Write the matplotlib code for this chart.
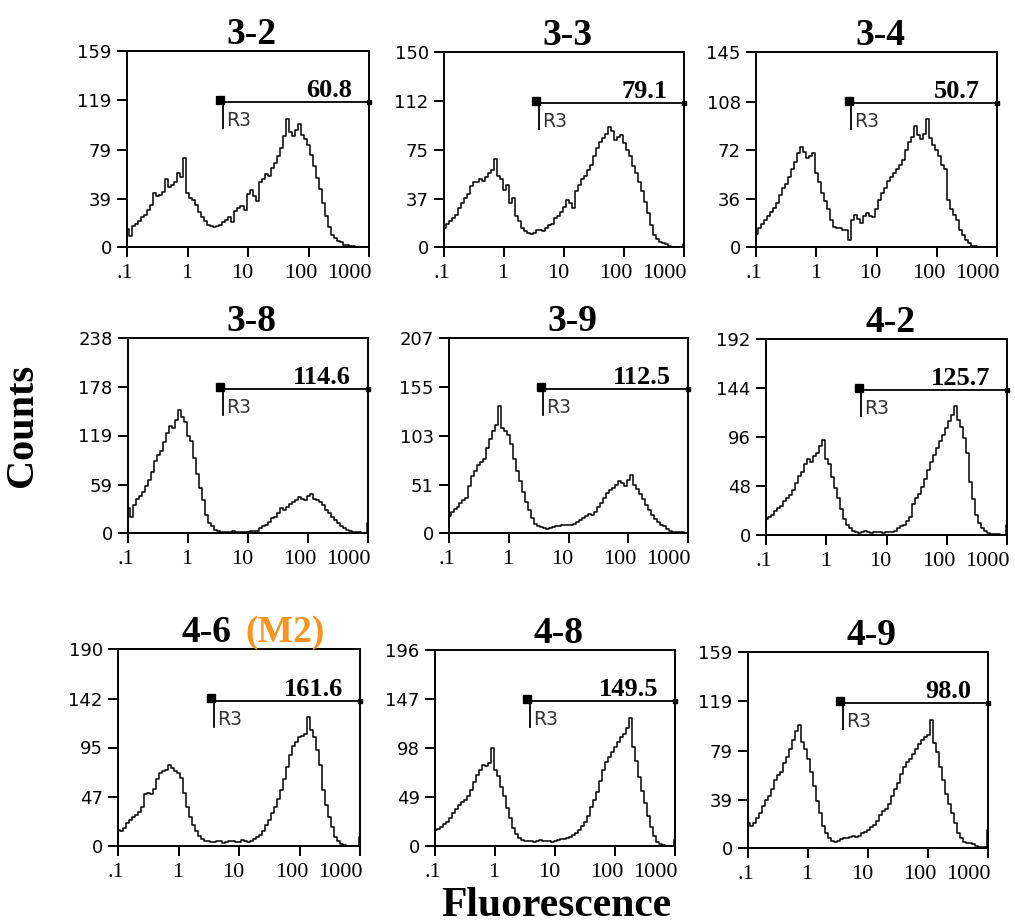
import matplotlib.pyplot as plt
import numpy as np
from matplotlib.ticker import NullLocator
from matplotlib.transforms import offset_copy

# histogram channels, 0.05 decade apart from .1 to 1000
log_fl = np.round(np.arange(-1.0, 3.001, 0.05), 2)
fl = 10 ** log_fl

titles = ['3-2', '3-3', '3-4', '3-8', '3-9', '4-2', '4-6', '4-8', '4-9']
gate_means = ['60.8', '79.1', '50.7', '114.6', '112.5', '125.7', '161.6', '149.5', '98.0']

y_ticks = [
    [0, 39, 79, 119, 159],
    [0, 37, 75, 112, 150],
    [0, 36, 72, 108, 145],
    [0, 59, 119, 178, 238],
    [0, 51, 103, 155, 207],
    [0, 48, 96, 144, 192],
    [0, 47, 95, 142, 190],
    [0, 49, 98, 147, 196],
    [0, 39, 79, 119, 159],
]

counts_3_2 = [15, 9, 17, 19, 21, 24, 26, 30, 34, 44,
              41, 42, 45, 55, 49, 50, 53, 60, 57, 72,
              44, 40, 38, 34, 28, 24, 21, 18, 17, 16,
              17, 18, 20, 22, 24, 20, 29, 32, 33, 30,
              43, 46, 41, 37, 53, 55, 59, 58, 64, 68,
              74, 80, 90, 104, 93, 90, 95, 100, 91, 88,
              83, 75, 66, 56, 47, 36, 25, 16, 10, 7,
              5, 4, 2, 2, 1, 1, 0, 0, 0, 0, 0]
counts_3_3 = [15, 18, 20, 22, 25, 30, 34, 38, 41, 47,
              50, 50, 52, 51, 54, 57, 59, 68, 55, 52,
              44, 48, 34, 38, 24, 20, 15, 12, 11, 10,
              11, 13, 13, 12, 15, 17, 18, 22, 24, 27,
              31, 36, 34, 30, 43, 48, 52, 55, 59, 63,
              70, 76, 81, 84, 87, 92, 89, 82, 85, 86,
              80, 75, 70, 62, 57, 50, 43, 35, 26, 17,
              9, 6, 4, 3, 2, 1, 0, 0, 0, 0, 2]
counts_3_4 = [10, 14, 17, 20, 23, 26, 29, 33, 39, 44,
              47, 52, 58, 63, 70, 74, 71, 66, 68, 70,
              55, 48, 40, 34, 28, 20, 15, 14, 14, 13,
              13, 5, 20, 24, 21, 18, 23, 25, 23, 22,
              28, 35, 40, 44, 49, 52, 55, 58, 61, 65,
              72, 78, 82, 90, 83, 80, 84, 95, 81, 76,
              72, 68, 61, 58, 35, 28, 24, 20, 13, 9,
              5, 3, 1, 1, 0, 0, 0, 0, 0, 0, 0]
counts_3_8 = [30, 20, 34, 42, 45, 50, 57, 65, 75, 88,
              95, 100, 111, 122, 130, 128, 138, 150, 142, 135,
              119, 112, 91, 72, 55, 40, 22, 12, 8, 4,
              2, 1, 1, 1, 1, 2, 1, 1, 1, 1,
              1, 2, 3, 2, 6, 8, 10, 14, 18, 20,
              24, 30, 28, 32, 36, 38, 40, 44, 42, 40,
              45, 48, 42, 40, 38, 34, 28, 24, 20, 16,
              12, 9, 6, 4, 2, 1, 1, 1, 0, 0, 12]
counts_3_9 = [18, 22, 25, 28, 32, 35, 37, 50, 60, 66,
              72, 75, 79, 90, 100, 108, 115, 135, 111, 108,
              104, 95, 79, 66, 55, 44, 33, 24, 16, 10,
              7, 6, 5, 4, 5, 6, 7, 7, 8, 9,
              9, 8, 10, 12, 14, 16, 18, 20, 19, 22,
              28, 32, 37, 42, 46, 48, 51, 55, 53, 50,
              56, 62, 51, 47, 41, 36, 30, 24, 19, 15,
              12, 9, 7, 4, 2, 1, 1, 1, 1, 0, 0]
counts_4_2 = [16, 18, 20, 24, 26, 28, 33, 36, 39, 44,
              51, 58, 62, 70, 74, 72, 77, 80, 87, 93,
              74, 70, 57, 46, 36, 25, 16, 10, 7, 4,
              3, 2, 3, 4, 3, 2, 3, 3, 3, 2,
              3, 3, 3, 4, 7, 9, 10, 14, 18, 30,
              36, 40, 47, 55, 64, 72, 78, 85, 92, 98,
              105, 112, 118, 126, 113, 106, 95, 80, 52, 35,
              20, 12, 7, 4, 2, 1, 1, 1, 0, 0, 10]
counts_4_6 = [15, 14, 17, 22, 25, 28, 30, 33, 38, 50,
              51, 50, 55, 65, 70, 72, 73, 78, 75, 72,
              70, 66, 51, 38, 28, 20, 14, 10, 7, 5,
              5, 4, 4, 5, 5, 3, 4, 5, 5, 4,
              4, 6, 5, 4, 5, 7, 9, 11, 14, 20,
              25, 32, 38, 45, 54, 65, 76, 88, 96, 100,
              105, 106, 108, 124, 112, 105, 93, 78, 54, 40,
              28, 18, 9, 5, 2, 1, 0, 0, 0, 0, 9]
counts_4_8 = [16, 17, 19, 22, 24, 28, 33, 37, 41, 44,
              46, 50, 56, 64, 71, 76, 81, 80, 83, 98,
              76, 70, 59, 50, 38, 28, 18, 12, 8, 6,
              5, 5, 5, 4, 5, 6, 5, 5, 5, 4,
              5, 6, 7, 7, 8, 9, 11, 13, 16, 20,
              24, 30, 39, 46, 54, 65, 76, 84, 89, 94,
              99, 104, 109, 112, 118, 128, 99, 85, 69, 55,
              43, 30, 19, 10, 4, 2, 1, 0, 0, 0, 6]
counts_4_9 = [20, 18, 20, 24, 28, 34, 39, 42, 48, 55,
              59, 62, 69, 74, 80, 88, 95, 100, 86, 80,
              72, 62, 50, 38, 28, 18, 12, 8, 6, 5,
              6, 7, 8, 8, 9, 10, 9, 10, 12, 13,
              15, 17, 19, 22, 27, 30, 32, 36, 42, 48,
              53, 60, 66, 70, 72, 76, 80, 84, 88, 90,
              92, 104, 85, 78, 66, 55, 44, 36, 28, 20,
              12, 8, 5, 4, 4, 3, 2, 1, 1, 1, 15]

counts = [counts_3_2, counts_3_3, counts_3_4, counts_3_8, counts_3_9,
          counts_4_2, counts_4_6, counts_4_8, counts_4_9]

x_ticks = [0.1, 1, 10, 100, 1000]
x_tick_labels = ['.1', '1', '10', '100', '1000']
# the printed labels sit a little left of their ticks (pixels)
x_label_shift = [-2, -1, -6, -8, -20]

# R3 marker: start of the gate (fluorescence) and its level as fraction of the y range
gate_start = 3.45
gate_level = 0.738

W, H = 1015, 924
# axes boxes in pixels: left, top, right, bottom
boxes = [
    (127, 51, 369, 247), (444, 52, 684, 247), (756, 52, 997, 247),
    (128, 338, 368, 533), (449, 338, 688, 533), (766, 339, 1007, 535),
    (118, 649, 360, 846), (435, 650, 675, 846), (748, 652, 988, 848),
]

SERIF = 'Liberation Serif'
SANS = 'DejaVu Sans'
ORANGE = '#F7931E'


def draw_panel(fig, ax, values, yt, title, mean):
    ax.plot(fl, values, drawstyle='steps-mid', color='black', lw=1.1)
    ax.set_xscale('log')
    ax.set_xlim(0.1, 1000)
    ax.set_ylim(0, yt[-1])
    ax.xaxis.set_minor_locator(NullLocator())
    ax.set_xticks(x_ticks, labels=[])
    ax.set_yticks(yt, labels=[str(v) for v in yt], fontsize=13, fontfamily=SANS)
    ax.tick_params(direction='out', length=7, width=1.4, pad=4, top=False, right=False)
    for s in ax.spines.values():
        s.set_linewidth(1.4)

    trans = ax.get_xaxis_transform()
    for xv, lab, dx in zip(x_ticks, x_tick_labels, x_label_shift):
        ax.text(xv, 0, lab, transform=offset_copy(trans, fig, x=dx, y=-17, units='dots'),
                fontsize=16, fontfamily=SERIF, ha='center', va='top', clip_on=False)

    # gate bar
    ax.plot([gate_start, 1000], [gate_level, gate_level], color='black', lw=1.3,
            transform=trans, clip_on=False)
    ax.plot([gate_start], [gate_level + 0.012], marker='s', ms=5.5, color='black', transform=trans)
    ax.plot([3.8, 3.8], [gate_level, 0.605], color='black', lw=1.3, transform=trans)
    ax.plot([1000], [gate_level], marker='s', ms=2.5, color='black', transform=trans, clip_on=False)
    ax.text(4.3, 0.643, 'R3', transform=trans, fontsize=13.5, fontfamily=SANS,
            color='#333333', va='center', ha='left')
    ax.text(0.93, gate_level + 0.025, mean, transform=ax.transAxes, fontsize=19,
            fontweight='bold', fontfamily=SERIF, ha='right', va='baseline')

    if title == '4-6':
        ax.text(0.471, 1.035, '4-6', transform=ax.transAxes, fontsize=27, fontweight='bold',
                fontfamily=SERIF, ha='right', va='baseline')
        ax.text(0.525, 1.035, '(M2)', transform=ax.transAxes, fontsize=27, fontweight='bold',
                fontfamily=SERIF, color=ORANGE, ha='left', va='baseline')
    else:
        ax.text(0.515, 1.035, title, transform=ax.transAxes, fontsize=27, fontweight='bold',
                fontfamily=SERIF, ha='center', va='baseline')


fig = plt.figure(figsize=(W / 100, H / 100), dpi=100)

for (l, t, r, b), values, yt, title, mean in zip(boxes, counts, y_ticks, titles, gate_means):
    ax = fig.add_axes([l / W, 1 - b / H, (r - l) / W, (b - t) / H])
    draw_panel(fig, ax, values, yt, title, mean)

fig.text(22 / W, 1 - 425 / H, 'Counts', rotation=90, fontsize=29, fontweight='bold',
         fontfamily=SERIF, ha='center', va='center')
fig.text(556 / W, 1 - 906 / H, 'Fluorescence', fontsize=30, fontweight='bold',
         fontfamily=SERIF, ha='center', va='center')

plt.savefig('out.png', dpi=100)
